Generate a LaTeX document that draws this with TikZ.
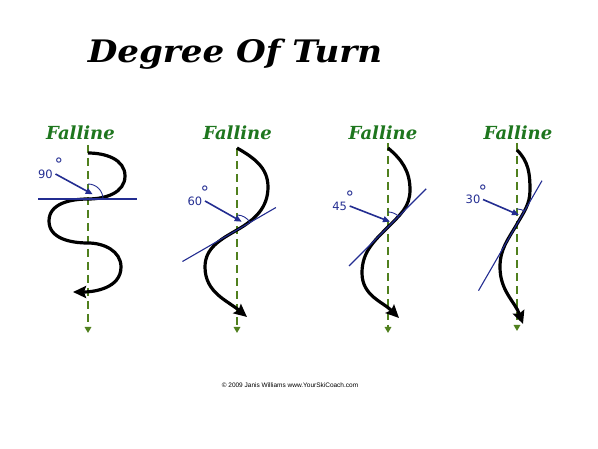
\documentclass[tikz,border=0pt]{standalone}
\usepackage{fontspec}
\setmainfont{DejaVu Serif}
\setsansfont{DejaVu Sans}
\newfontfamily\titlefont[FakeStretch=1.1]{DejaVu Serif}
\newfontfamily\notefont{Liberation Sans}
\usetikzlibrary{arrows.meta}
\usetikzlibrary{quotes,angles,positioning,calc}
\definecolor{fallgreen}{RGB}{30,118,30}
\definecolor{dashgreen}{RGB}{80,128,30}
\definecolor{ink}{RGB}{35,45,145}

\begin{document}
\begin{tikzpicture}[x=1pt,y=1pt,
  falltext/.style={text=fallgreen,font=\fontsize{18}{18}\selectfont\bfseries\itshape,anchor=base,inner sep=0pt},
  fallline/.style={draw=dashgreen,line width=1.6pt,dash pattern=on 8pt off 5pt,-{Triangle[length=6pt,width=6.5pt]}},
  turnpath/.style={line width=3.2pt,-{Stealth[length=13pt,width=12pt,inset=2pt]}},
  degtext/.style={text=ink,font=\sffamily\fontsize{11.5}{11.5}\selectfont,inner sep=2.5pt},
  degsign/.style={text=ink,font=\sffamily\fontsize{17}{17}\selectfont,inner sep=0pt,anchor=north west},
  tangent/.style={draw=ink,line width=1.1pt},
  pointer/.style={draw=ink,line width=1.6pt,-{Triangle[length=7pt,width=6pt]}},
  anglearc/.style={draw=ink,line width=0.9pt,angle radius=15pt}]

\useasboundingbox (0,0) rectangle (598,448);

\node[font=\titlefont\fontsize{31}{31}\selectfont\bfseries\itshape,anchor=base] (title) at (235,385) {Degree Of Turn};

% 90
\coordinate (T1) at (88,303);
\coordinate (B1) at (88,115);
\coordinate (C1) at (88,249);
\coordinate (S1) at (88,295);
\coordinate (R1) at (125,272);
\coordinate (W1) at (49,227);
\coordinate (M1) at (88,205);
\coordinate (Q1) at (121,181);
\coordinate (E1) at (73,156);
\coordinate (H1a) at (38,249);
\coordinate (H1b) at (137,249);
\coordinate (P1) at (92.7,253.7);
\node[falltext] (F1) at (80.5,308.5) {Falline};
\node[degtext] (L1) at (45.5,274) {90};
\node[degsign] (O1) at (54.5,290) {°};
\draw[fallline] (T1) -- (B1);
\draw[turnpath] (S1) to[out=0,in=90] (R1) to[out=-90,in=0] (C1) to[out=180,in=90] (W1)
  to[out=-90,in=180] (M1) to[out=0,in=90] (Q1) to[out=-90,in=0] (E1);
\draw[tangent] (H1a) -- (H1b);
\pic[anglearc] {angle = H1b--C1--T1};
\draw[pointer] (L1.east) -- (P1);

% 60
\coordinate (T2) at (237,300);
\coordinate (B2) at (237,115);
\coordinate (C2) at (237,218);
\coordinate (S2) at (237,300);
\coordinate (R2) at (268,261);
\coordinate (W2) at (205,181);
\coordinate (E2) at (247,131);
\coordinate (H2a) at ($(C2)+(210:63)$);
\coordinate (H2b) at ($(C2)+(30:45)$);
\coordinate (P2) at (241.7,226.3);
\node[falltext] (F2) at (237.5,308.5) {Falline};
\node[degtext] (L2) at (195,247) {60};
\node[degsign] (O2) at (200.5,262.5) {°};
\draw[fallline] (T2) -- (B2);
\draw[turnpath] (S2) to[out=-30,in=90] (R2) to[out=-90,in=30] (C2) to[out=210,in=90] (W2)
  to[out=-90,in=140] (E2);
\draw[tangent] (H2a) -- (H2b);
\pic[anglearc] {angle = H2b--C2--T2};
\draw[pointer] (L2.east) -- (P2);

% 45
\coordinate (T3) at (388,305);
\coordinate (B3) at (388,115);
\coordinate (C3) at (388,221);
\coordinate (S3) at (388,300);
\coordinate (R3) at (410,258);
\coordinate (W3) at (362,175);
\coordinate (E3) at (399,130);
\coordinate (H3a) at ($(C3)+(225:55)$);
\coordinate (H3b) at ($(C3)+(45:54)$);
\coordinate (P3) at (390,226.3);
\node[falltext] (F3) at (383,308.5) {Falline};
\node[degtext] (L3) at (339.7,242) {45};
\node[degsign] (O3) at (345.5,257.5) {°};
\draw[fallline] (T3) -- (B3);
\draw[turnpath] (S3) to[out=-40,in=90] (R3) to[out=-90,in=45] (C3) to[out=225,in=90] (W3)
  to[out=-90,in=135] (E3);
\draw[tangent] (H3a) -- (H3b);
\pic[anglearc] {angle = H3b--C3--T3};
\draw[pointer] (L3.east) -- (P3);

% 30
\coordinate (T4) at (517,305);
\coordinate (B4) at (517,117);
\coordinate (C4) at (517,224);
\coordinate (S4) at (517,298);
\coordinate (R4) at (530,258);
\coordinate (W4) at (500,181);
\coordinate (E4) at (523,124);
\coordinate (H4a) at ($(C4)+(240:77)$);
\coordinate (H4b) at ($(C4)+(60:50)$);
\coordinate (P4) at (519,233);
\node[falltext] (F4) at (518,308.5) {Falline};
\node[degtext] (L4) at (473,248.5) {30};
\node[degsign] (O4) at (478.5,263.5) {°};
\draw[fallline] (T4) -- (B4);
\draw[turnpath] (S4) to[out=-45,in=90] (R4) to[out=-90,in=60] (C4) to[out=240,in=90] (W4)
  to[out=-90,in=110] (E4);
\draw[tangent] (H4a) -- (H4b);
\pic[anglearc] {angle = H4b--C4--T4};
\draw[pointer] (L4.east) -- (P4);

\node[font=\notefont\fontsize{6.5}{6.5}\selectfont] (credit) at (290,63) {© 2009 Janis Williams www.YourSkiCoach.com};
\end{tikzpicture}
\end{document}
